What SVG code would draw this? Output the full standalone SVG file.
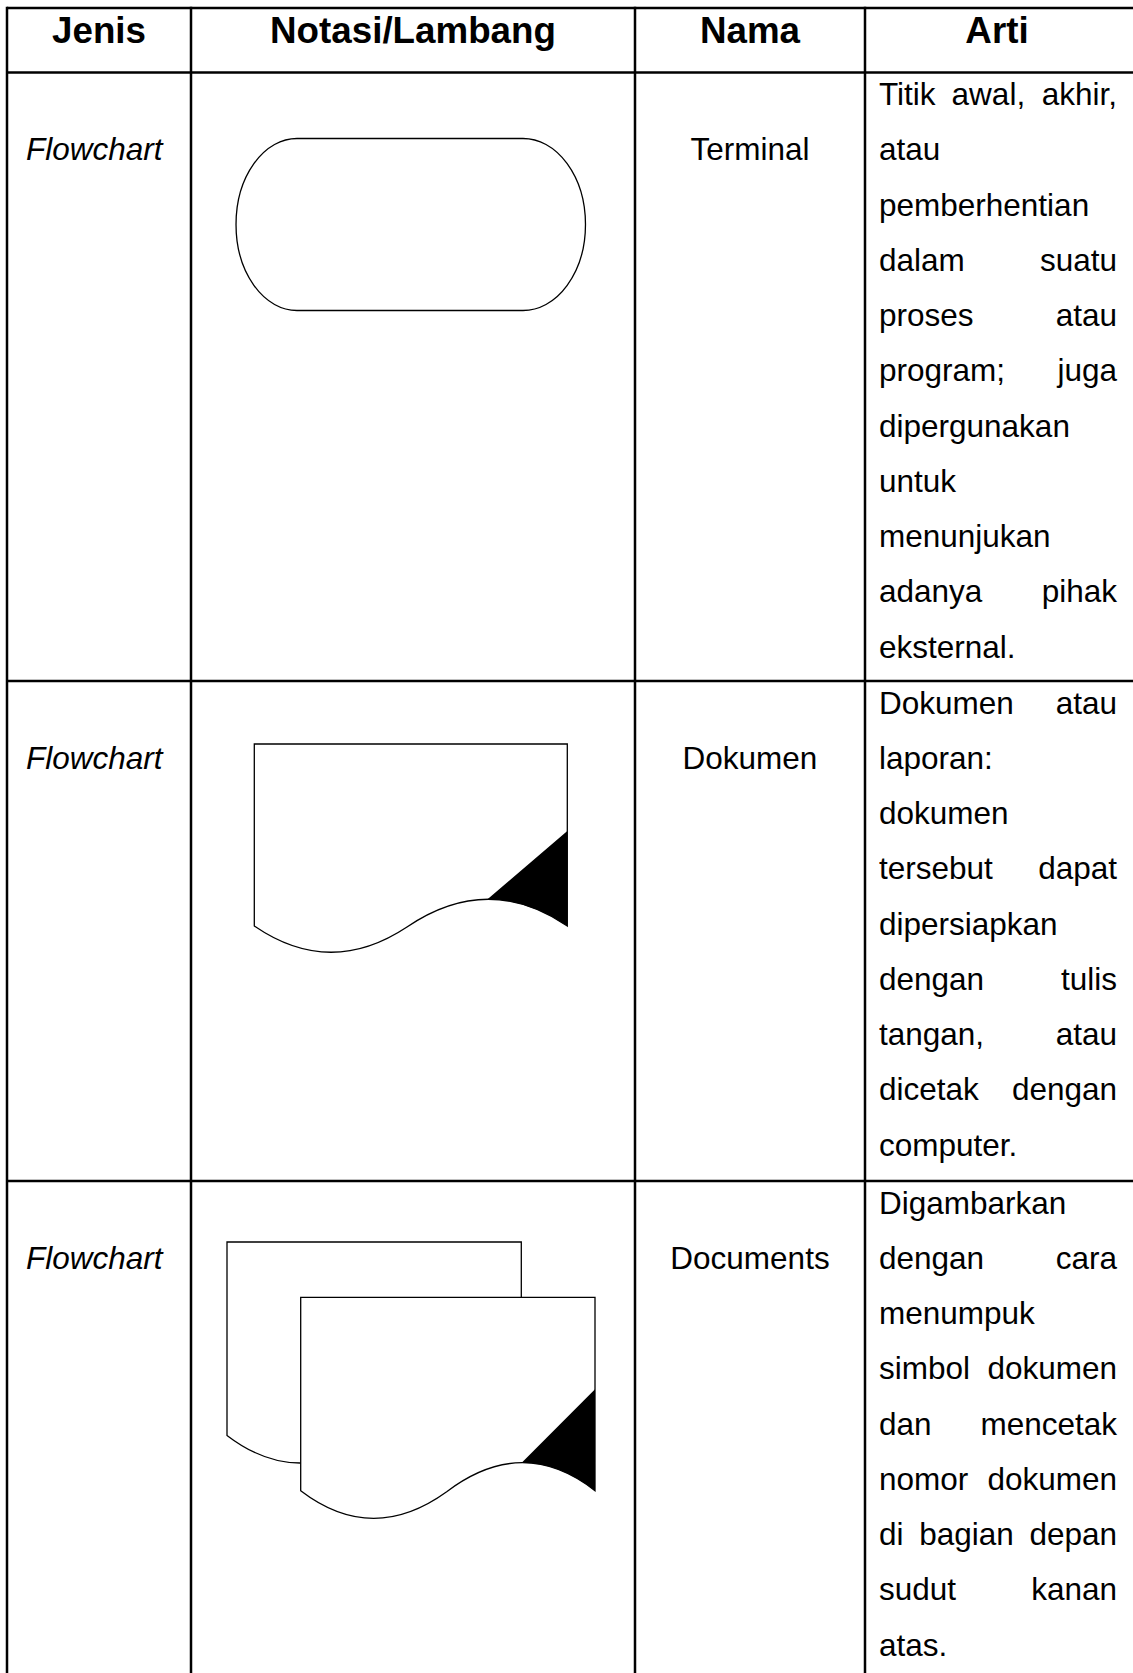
<svg xmlns="http://www.w3.org/2000/svg" width="1133" height="1673" viewBox="0 0 1133 1673">
<style>
.grid{stroke:#000;stroke-width:2.5;fill:none}
.hd{font-family:"Liberation Sans",Arial,sans-serif;font-size:36.75px;font-weight:bold;text-anchor:middle;fill:#000}
.tx{font-family:"Liberation Sans",Arial,sans-serif;font-size:31.5px;fill:#000}
.it{font-style:italic}
.c{text-anchor:middle}
.e{text-anchor:end}
.shape{fill:#fff;stroke:#000;stroke-width:1.3}
.blk{fill:#000;stroke:none}
</style>
<rect x="0" y="0" width="1133" height="1673" fill="#fff"/>
<g id="grid">
<line class="grid" x1="7" y1="8" x2="1133" y2="8"/>
<line class="grid" x1="7" y1="72.5" x2="1133" y2="72.5"/>
<line class="grid" x1="7" y1="681" x2="1133" y2="681"/>
<line class="grid" x1="7" y1="1181" x2="1133" y2="1181"/>
<line class="grid" x1="7" y1="6.75" x2="7" y2="1673"/>
<line class="grid" x1="191" y1="6.75" x2="191" y2="1673"/>
<line class="grid" x1="635" y1="6.75" x2="635" y2="1673"/>
<line class="grid" x1="865" y1="6.75" x2="865" y2="1673"/>
</g>
<g id="header">
<text class="hd" x="99" y="43">Jenis</text>
<text class="hd" x="413" y="43">Notasi/Lambang</text>
<text class="hd" x="750" y="43">Nama</text>
<text class="hd" x="997" y="43">Arti</text>
</g>
<g id="row-terminal">
<text class="tx it" x="26" y="160.3">Flowchart</text>
<path class="shape" d="M297,138.5 H523 A62.5,86 0 0 1 523,310.5 H297 A61,86 0 0 1 297,138.5 Z"/>
<text class="tx c" x="750" y="160.3">Terminal</text>
<g class="tx">
<text x="879" y="105">Titik</text><text x="951.6" y="105">awal,</text><text class="e" x="1117" y="105">akhir,</text>
<text x="879" y="160.3">atau</text>
<text x="879" y="215.5">pemberhentian</text>
<text x="879" y="270.8">dalam</text><text class="e" x="1117" y="270.8">suatu</text>
<text x="879" y="326.1">proses</text><text class="e" x="1117" y="326.1">atau</text>
<text x="879" y="381.4">program;</text><text class="e" x="1117" y="381.4">juga</text>
<text x="879" y="436.6">dipergunakan</text>
<text x="879" y="491.9">untuk</text>
<text x="879" y="547.2">menunjukan</text>
<text x="879" y="602.4">adanya</text><text class="e" x="1117" y="602.4">pihak</text>
<text x="879" y="657.7">eksternal.</text>
</g>
</g>
<g id="row-dokumen">
<text class="tx it" x="26" y="768.8">Flowchart</text>
<path class="shape" d="M254.3,744 H567.3 V926 Q488,872 407,927 Q330,978 254.3,926 Z"/>
<path class="blk" d="M487.5,899.25 L567.3,831 L567.3,926 Q527.5,899 487.5,899.25 Z"/>
<text class="tx c" x="750" y="768.8">Dokumen</text>
<g class="tx">
<text x="879" y="713.5">Dokumen</text><text class="e" x="1117" y="713.5">atau</text>
<text x="879" y="768.8">laporan:</text>
<text x="879" y="824">dokumen</text>
<text x="879" y="879.3">tersebut</text><text class="e" x="1117" y="879.3">dapat</text>
<text x="879" y="934.6">dipersiapkan</text>
<text x="879" y="989.9">dengan</text><text class="e" x="1117" y="989.9">tulis</text>
<text x="879" y="1045.1">tangan,</text><text class="e" x="1117" y="1045.1">atau</text>
<text x="879" y="1100.4">dicetak</text><text class="e" x="1117" y="1100.4">dengan</text>
<text x="879" y="1155.7">computer.</text>
</g>
</g>
<g id="row-documents">
<text class="tx it" x="26" y="1268.8">Flowchart</text>
<path class="shape" transform="translate(-73.7,-55.3)" d="M300.7,1297.3 H595 V1490.7 Q522.55,1434.2 446.7,1491.7 Q372.3,1545.4 300.7,1490.7 Z"/>
<path class="shape" d="M300.7,1297.3 H595 V1490.7 Q522.55,1434.2 446.7,1491.7 Q372.3,1545.4 300.7,1490.7 Z"/>
<path class="blk" d="M521.7,1462.7 L595,1389.3 L595,1490.7 Q558.8,1462.45 521.7,1462.7 Z"/>
<text class="tx c" x="750" y="1268.8">Documents</text>
<g class="tx">
<text x="879" y="1213.5">Digambarkan</text>
<text x="879" y="1268.8">dengan</text><text class="e" x="1117" y="1268.8">cara</text>
<text x="879" y="1324">menumpuk</text>
<text x="879" y="1379.3">simbol</text><text class="e" x="1117" y="1379.3">dokumen</text>
<text x="879" y="1434.6">dan</text><text class="e" x="1117" y="1434.6">mencetak</text>
<text x="879" y="1489.9">nomor</text><text class="e" x="1117" y="1489.9">dokumen</text>
<text x="879" y="1545.1">di</text><text x="919.3" y="1545.1">bagian</text><text class="e" x="1117" y="1545.1">depan</text>
<text x="879" y="1600.4">sudut</text><text class="e" x="1117" y="1600.4">kanan</text>
<text x="879" y="1655.7">atas.</text>
</g>
</g>
</svg>
